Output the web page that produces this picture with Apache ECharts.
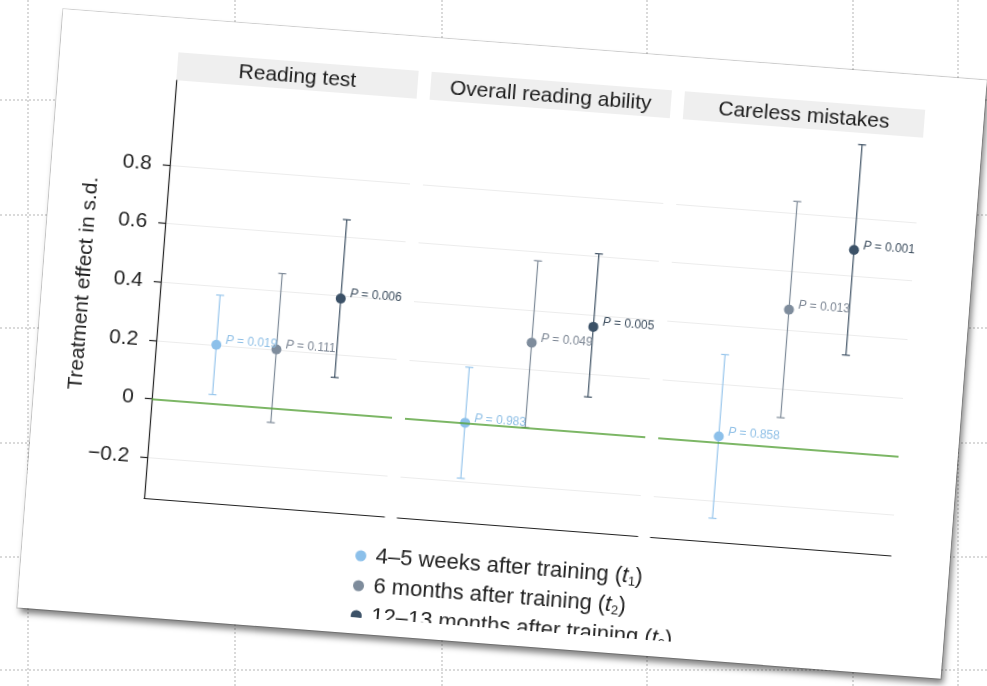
<!DOCTYPE html>
<html>
<head>
<meta charset="utf-8">
<script src="https://cdn.jsdelivr.net/npm/echarts@6/dist/echarts.min.js"></script>
<style>
  html, body { margin: 0; padding: 0; width: 987px; height: 686px; overflow: hidden; background: #fff; }
  #desk { position: absolute; left: 0; top: 0; width: 987px; height: 686px; }
  .vl { position: absolute; top: 0; height: 686px; width: 0; border-left: 2px dotted #dadada; }
  .hl { position: absolute; left: 0; width: 987px; height: 0; border-top: 2px dotted #dadada; }
  #paper {
    position: absolute; left: 38.5px; top: 44px; width: 926px; height: 600px;
    background: #fff; transform: rotate(4.4deg); transform-origin: 50% 50%;
    box-shadow: 3px 5px 6px rgba(0,0,0,0.5);
    outline: 1px solid rgba(0,0,0,0.18);
  }
  #chart { position: absolute; left: 0; top: 0; width: 926px; height: 584px; overflow: hidden; }
</style>
</head>
<body>
<div id="desk">
  <div class="vl" style="left:27px"></div>
  <div class="vl" style="left:234px"></div>
  <div class="vl" style="left:441px"></div>
  <div class="vl" style="left:646px"></div>
  <div class="vl" style="left:852px"></div>
  <div class="vl" style="left:957px"></div>
  <div class="hl" style="top:99px"></div>
  <div class="hl" style="top:214px"></div>
  <div class="hl" style="top:327px"></div>
  <div class="hl" style="top:442px"></div>
  <div class="hl" style="top:556px"></div>
  <div class="hl" style="top:669px"></div>
</div>
<div id="paper"><div id="chart"></div></div>
<script>
// Outcome panels and follow-up waves
const panels = ['Reading test', 'Overall reading ability', 'Careless mistakes'];
const waves = ['4–5 weeks after training', '6 months after training', '12–13 months after training'];
const waveSub = ['1', '2', '3'];
const waveX = [1, 2, 3];

// Treatment effects (s.d.) per wave, one value per panel
const estT1 = [0.20, 0.00, 0.02];
const estT2 = [0.20, 0.29, 0.47];
const estT3 = [0.39, 0.36, 0.69];

// Confidence interval bounds
const lowT1 = [0.03, -0.19, -0.26];
const lowT2 = [-0.05, 0.00, 0.10];
const lowT3 = [0.12, 0.12, 0.33];
const upT1 = [0.37, 0.19, 0.30];
const upT2 = [0.46, 0.57, 0.84];
const upT3 = [0.66, 0.61, 1.05];

// P values
const pT1 = ['0.019', '0.983', '0.858'];
const pT2 = ['0.111', '0.049', '0.013'];
const pT3 = ['0.006', '0.005', '0.001'];

// Axis ticks
const yTicks = [-0.2, 0, 0.2, 0.4, 0.6, 0.8];
const yMin = -0.34, yMax = 1.09;

const est = [estT1, estT2, estT3];
const low = [lowT1, lowT2, lowT3];
const up = [upT1, upT2, upT3];
const pv = [pT1, pT2, pT3];

const waveColor = ['#8cc0ea', '#7e8c9c', '#3b5167'];
const barColor = ['#98c6ec', '#7e8a98', '#3e5063'];
const labelColor = ['#8ebfe6', '#7b8593', '#3c4d5e'];
const FONT = "'Liberation Sans', Arial, Helvetica, sans-serif";

// panel layout
const gridLeft = [118, 372, 626];
const gridTop = 62, gridW = 241, gridH = 419;
const stripTop = 34, stripH = 28;

const grids = [], xAxes = [], yAxes = [], series = [], graphics = [];

panels.forEach((title, p) => {
  grids.push({ left: gridLeft[p], top: gridTop, width: gridW, height: gridH, outerBoundsMode: 'none' });
  xAxes.push({
    type: 'value', gridIndex: p, min: 0, max: 4,
    axisLine: { show: true, onZero: false, lineStyle: { color: '#222', width: 1.2 } },
    axisTick: { show: false }, axisLabel: { show: false }, splitLine: { show: false }
  });
  yAxes.push({
    type: 'value', gridIndex: p, min: yMin, max: yMax,
    name: p === 0 ? 'Treatment effect in s.d.' : '',
    nameLocation: 'middle', nameGap: 66,
    nameTextStyle: { fontSize: 21, color: '#222', fontFamily: FONT },
    axisLine: { show: p === 0, lineStyle: { color: '#222', width: 1.2 } },
    axisTick: { show: p === 0, customValues: yTicks, length: 7, lineStyle: { color: '#222', width: 1.2 } },
    axisLabel: {
      show: p === 0, customValues: yTicks, margin: 18,
      fontSize: 21, color: '#222', fontFamily: FONT,
      formatter: v => v < 0 ? '\u2212' + Math.abs(v).toFixed(1) : (v === 0 ? '0' : v.toFixed(1))
    },
    splitLine: { show: true, lineStyle: { color: '#ececec', width: 1 } }
  });

  // strip header
  graphics.push({
    type: 'rect', left: gridLeft[p], top: stripTop, silent: true,
    shape: { width: gridW, height: stripH }, style: { fill: '#efefef' }
  });
  graphics.push({
    type: 'text', x: gridLeft[p] + gridW / 2, y: stripTop + stripH / 2 + 1, silent: true,
    style: {
      text: title, fill: '#1c1c1c', font: '21px ' + FONT,
      textAlign: 'center', textVerticalAlign: 'middle', align: 'center', verticalAlign: 'middle'
    }
  });

  waves.forEach((w, k) => {
    // confidence interval whiskers
    const bar = {
      type: 'custom', xAxisIndex: p, yAxisIndex: p, z: 2, silent: true,
      data: [[waveX[k], low[k][p], up[k][p]]],
      renderItem: (params, api) => {
        const x = api.value(0);
        const a = api.coord([x, api.value(1)]);
        const b = api.coord([x, api.value(2)]);
        const st = { stroke: barColor[k], lineWidth: 1.2, fill: null };
        return {
          type: 'group', children: [
            { type: 'line', shape: { x1: a[0], y1: a[1], x2: b[0], y2: b[1] }, style: st },
            { type: 'line', shape: { x1: a[0] - 4, y1: a[1], x2: a[0] + 4, y2: a[1] }, style: st },
            { type: 'line', shape: { x1: b[0] - 4, y1: b[1], x2: b[0] + 4, y2: b[1] }, style: st }
          ]
        };
      }
    };
    if (k === 0) {
      bar.markLine = {
        silent: true, symbol: 'none', label: { show: false },
        lineStyle: { color: '#54a236', width: 1.5, type: 'solid' },
        data: [{ yAxis: 0 }]
      };
    }
    series.push(bar);

    // point estimate with P value
    series.push({
      type: 'scatter', name: w, xAxisIndex: p, yAxisIndex: p, z: 3,
      symbol: 'circle', symbolSize: 10,
      itemStyle: { color: waveColor[k], opacity: 1 },
      data: [[waveX[k], est[k][p]]],
      label: {
        show: true, position: 'right', distance: 4, offset: [0, -5],
        formatter: '{i|P} = ' + pv[k][p],
        fontSize: 12, color: labelColor[k], fontFamily: FONT,
        rich: { i: { fontStyle: 'italic', fontSize: 12, color: labelColor[k], fontFamily: FONT } }
      },
      emphasis: { disabled: true }
    });
  });
});

const chart = echarts.init(document.getElementById('chart'), null, { renderer: 'canvas' });
chart.setOption({
  backgroundColor: '#fff',
  animation: false,
  textStyle: { fontFamily: FONT },
  grid: grids,
  xAxis: xAxes,
  yAxis: yAxes,
  graphic: graphics,
  legend: {
    data: waves.map(n => ({ name: n, icon: 'circle' })),
    orient: 'vertical', left: 328, top: 505, width: 500, height: 200,
    itemWidth: 20, itemHeight: 11, itemGap: 6,
    selectedMode: false,
    formatter: name => name + ' ({it|t}{sub|' + waveSub[waves.indexOf(name)] + '})',
    textStyle: {
      fontSize: 22, color: '#222', fontFamily: FONT, lineHeight: 24,
      rich: {
        it: { fontSize: 22, fontStyle: 'italic', color: '#222', fontFamily: FONT, lineHeight: 24 },
        sub: { fontSize: 13, color: '#222', fontFamily: FONT, lineHeight: 24, padding: [10, 0, 0, 0] }
      }
    }
  },
  series: series
});
</script>
</body>
</html>
